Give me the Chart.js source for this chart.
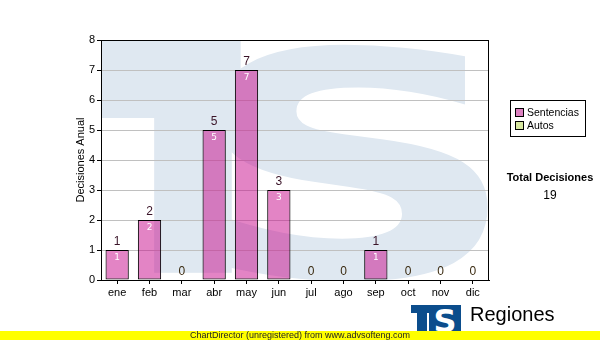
<!DOCTYPE html>
<html>
<head>
<meta charset="utf-8">
<script src="https://cdn.jsdelivr.net/npm/chart.js@4"></script>
<style>
  body { margin: 0; background: #fff; }
  #wrap { position: relative; width: 600px; height: 340px; overflow: hidden; font-family: "Liberation Sans", Arial, sans-serif; }
  #legend { position: absolute; left: 510px; top: 100px; width: 74px; height: 35px; border: 1px solid #000; background: #fff; font-size: 10.5px; }
  #legend div { position: absolute; left: 4px; height: 12px; line-height: 12px; white-space: nowrap; }
  #legend span { display: inline-block; width: 7px; height: 7px; border: 1px solid #000; margin-right: 3px; vertical-align: -1px; }
  #total { position: absolute; left: 500px; top: 171px; width: 100px; text-align: center; font-size: 11px; }
  #total b { display: block; }
  #total div { margin-top: 5px; font-size: 12px; }
  #logo { position: absolute; left: 411px; top: 305px; width: 50px; height: 30px; }
  #regiones { position: absolute; left: 470px; top: 303px; font-size: 20px; }
  #yellow { position: absolute; left: 0; top: 331px; width: 600px; height: 9px; background: #ffff00; font-size: 9px; line-height: 9px; text-align: center; color: #222; }
</style>
</head>
<body>
<div id="wrap">
  <canvas id="chart" width="600" height="340"></canvas>
  <div id="legend">
    <div style="top:5px"><span style="background:#dc80c0"></span>Sentencias</div>
    <div style="top:18px"><span style="background:#d8e8a0"></span>Autos</div>
  </div>
  <div id="total"><b>Total Decisiones</b><div id="totalVal"></div></div>
  <svg id="logo" viewBox="0 0 50 30">
    <rect x="0" y="0" width="50" height="30" fill="#fff"/>
    <rect x="0" y="0" width="18" height="8" fill="#0b4d8c"/>
    <rect x="6" y="0" width="10" height="30" fill="#0b4d8c"/>
    <rect x="18" y="0" width="32" height="30" fill="#0b4d8c"/>
    <text x="34" y="27" text-anchor="middle" font-family="DejaVu Sans" font-weight="bold" font-size="32" fill="#fff">S</text>
  </svg>
  <div id="regiones">Regiones</div>
  <div id="yellow">ChartDirector (unregistered) from www.advsofteng.com</div>
</div>
<script>
const meses = ["ene", "feb", "mar", "abr", "may", "jun", "jul", "ago", "sep", "oct", "nov", "dic"];
const sentencias = [1, 2, 0, 5, 7, 3, 0, 0, 1, 0, 0, 0];
const autos = [0, 0, 0, 0, 0, 0, 0, 0, 0, 0, 0, 0];
const yMin = 0;
const yMax = 8;
const yStep = 1;

const total = sentencias.reduce((a, b) => a + b, 0) + autos.reduce((a, b) => a + b, 0);
document.getElementById("totalVal").textContent = total;

// fondo con el logo TS en azul claro
const watermark = {
  id: "watermark",
  beforeDraw(chart) {
    const { ctx, chartArea: a } = chart;
    const w = a.right - a.left, h = a.bottom - a.top;
    ctx.save();
    ctx.beginPath();
    ctx.rect(a.left, a.top, w, h);
    ctx.clip();
    ctx.fillStyle = "#dfe8f1";
    ctx.fillRect(a.left, a.top, w * 0.36, h * 0.325);
    ctx.fillRect(a.left + w * 0.137, a.top, w * 0.2, h * 0.97);
    ctx.font = "bold 100px 'DejaVu Sans'";
    const m = ctx.measureText("S");
    const gw = m.actualBoundingBoxLeft + m.actualBoundingBoxRight;
    const gh = m.actualBoundingBoxAscent + m.actualBoundingBoxDescent;
    const bx = a.left + w * 0.294, by = a.top + h * 0.01;
    const bw = w * 0.706, bh = h * 0.99;
    ctx.translate(bx, by);
    ctx.scale(bw / gw, bh / gh);
    ctx.fillText("S", m.actualBoundingBoxLeft, m.actualBoundingBoxAscent);
    ctx.restore();
  }
};

const frame = {
  id: "frame",
  afterDatasetsDraw(chart) {
    const { ctx, chartArea: a } = chart;
    ctx.save();
    ctx.strokeStyle = "#000";
    ctx.lineWidth = 1;
    ctx.strokeRect(Math.round(a.left) + 0.5, Math.round(a.top) + 0.5, Math.round(a.right - a.left) - 1, Math.round(a.bottom - a.top));
    ctx.restore();
  }
};

const valueLabels = {
  id: "valueLabels",
  afterDraw(chart) {
    const { ctx } = chart;
    const meta = chart.getDatasetMeta(0);
    ctx.save();
    ctx.textAlign = "center";
    ctx.textBaseline = "middle";
    meta.data.forEach((bar, i) => {
      const tot = sentencias[i] + autos[i];
      ctx.font = "12px 'Liberation Sans'";
      ctx.fillStyle = tot > 0 ? "#3a1428" : "#3a2a10";
      ctx.fillText(String(tot), bar.x, bar.y - 8);
      if (sentencias[i] > 0) {
        ctx.font = "9px 'DejaVu Sans'";
        ctx.fillStyle = "#fff";
        ctx.fillText(String(sentencias[i]), bar.x, bar.y + 8);
      }
    });
    ctx.restore();
  }
};

new Chart(document.getElementById("chart"), {
  type: "bar",
  data: {
    labels: meses,
    datasets: [
      {
        label: "Sentencias",
        data: sentencias,
        backgroundColor: "rgba(200, 10, 140, 0.5)",
        borderColor: "#000",
        borderWidth: 1,
        borderSkipped: false,
        barPercentage: 0.72,
        categoryPercentage: 1
      },
      {
        label: "Autos",
        data: autos,
        backgroundColor: "#d8e8a0",
        borderColor: "#000",
        borderWidth: 0,
        barPercentage: 0.72,
        categoryPercentage: 1
      }
    ]
  },
  options: {
    responsive: false,
    animation: false,
    layout: { padding: { left: 0, top: 40, right: 111, bottom: 0 } },
    plugins: {
      legend: { display: false },
      tooltip: { enabled: false }
    },
    scales: {
      x: {
        stacked: true,
        afterFit: s => { s.height = 60; },
        grid: { offset: false, drawOnChartArea: false, drawTicks: true, tickLength: 4, tickColor: "#000" },
        border: { color: "#000" },
        ticks: { color: "#000", font: { family: "Liberation Sans", size: 11 }, padding: 2 }
      },
      y: {
        stacked: true,
        min: yMin,
        max: yMax,
        afterFit: s => { s.width = 101; },
        grid: { color: "#c0c0c0", tickLength: 4, tickColor: "#000" },
        border: { color: "#000" },
        ticks: { stepSize: yStep, color: "#000", font: { family: "Liberation Sans", size: 11 }, padding: 2 },
        title: {
          display: true,
          text: "Decisiones Anual",
          color: "#000",
          font: { family: "Liberation Sans", size: 11 },
          padding: { top: 74, bottom: 0 }
        }
      }
    }
  },
  plugins: [watermark, frame, valueLabels]
});
</script>
</body>
</html>
